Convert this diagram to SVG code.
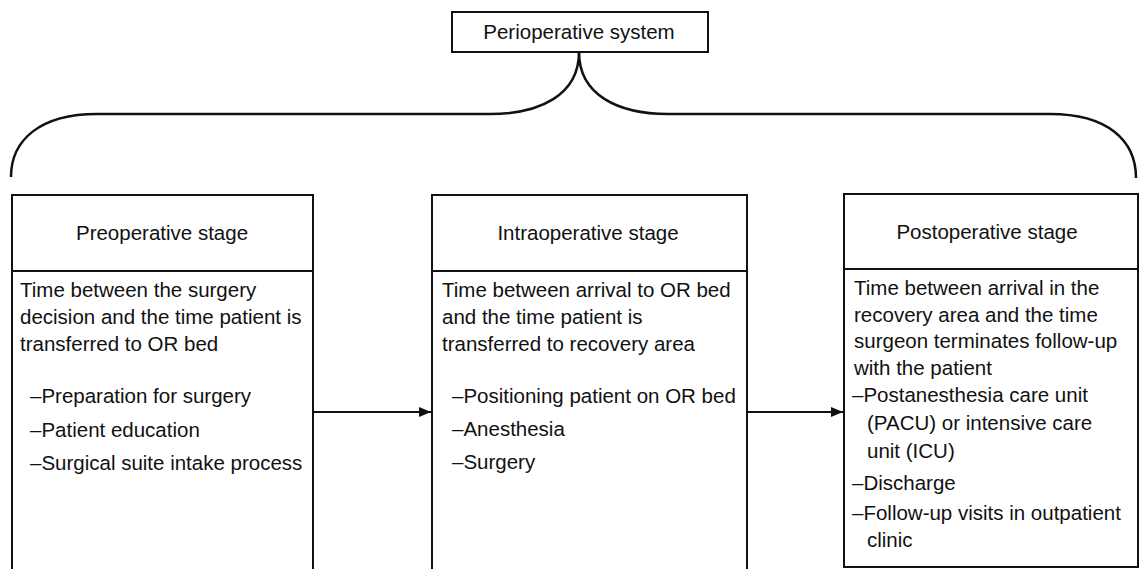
<svg xmlns="http://www.w3.org/2000/svg" width="1144" height="569" viewBox="0 0 1144 569">
<style>
.box{fill:#fff;stroke:#111;stroke-width:2}
.t{font-family:"Liberation Sans",Arial,sans-serif;font-size:20.5px;fill:#111}
.c{text-anchor:middle}
.line{fill:none;stroke:#111;stroke-width:2}
.brace{fill:none;stroke:#111;stroke-width:2.5}
</style>
<defs>
<marker id="arr" markerWidth="12" markerHeight="10" refX="12" refY="5" orient="auto" markerUnits="userSpaceOnUse">
<path d="M0,0 L12,5 L0,10 Z" fill="#111"/>
</marker>
</defs>
<rect width="1144" height="569" fill="#fff"/>
<g id="connectors">
<path class="brace" d="M579,52 C579,95 540,114 490,114 L97,114 C40,114 11,140 11,177"/>
<path class="brace" d="M579,52 C579,95 618,114 668,114 L1050,114 C1107,114 1136,140 1136,178"/>
<line class="line" x1="313" y1="412" x2="431" y2="412" marker-end="url(#arr)"/>
<line class="line" x1="747" y1="412" x2="843" y2="412" marker-end="url(#arr)"/>
</g>
<g id="perioperative">
<rect class="box" x="452" y="12" width="256" height="40"/>
<text class="t c" x="579" y="39">Perioperative system</text>
</g>
<g id="preoperative">
<path class="box" d="M12,575 L12,195 L313,195 L313,575"/>
<line class="line" x1="12" y1="271" x2="313" y2="271"/>
<text class="t c" x="162" y="240">Preoperative stage</text>
<text class="t" x="20" y="297">Time between the surgery</text>
<text class="t" x="20" y="324">decision and the time patient is</text>
<text class="t" x="20" y="351">transferred to OR bed</text>
<text class="t" x="30" y="403">–Preparation for surgery</text>
<text class="t" x="30" y="437">–Patient education</text>
<text class="t" x="30" y="470">–Surgical suite intake process</text>
</g>
<g id="intraoperative">
<path class="box" d="M432,575 L432,195 L747,195 L747,575"/>
<line class="line" x1="432" y1="271" x2="747" y2="271"/>
<text class="t c" x="588" y="240">Intraoperative stage</text>
<text class="t" x="442" y="297">Time between arrival to OR bed</text>
<text class="t" x="442" y="324">and the time patient is</text>
<text class="t" x="442" y="351">transferred to recovery area</text>
<text class="t" x="452" y="403">–Positioning patient on OR bed</text>
<text class="t" x="452" y="436">–Anesthesia</text>
<text class="t" x="452" y="469">–Surgery</text>
</g>
<g id="postoperative">
<rect class="box" x="844" y="194" width="294" height="373"/>
<line class="line" x1="844" y1="269" x2="1138" y2="269"/>
<text class="t c" x="987" y="239">Postoperative stage</text>
<text class="t" x="854" y="295">Time between arrival in the</text>
<text class="t" x="854" y="322">recovery area and the time</text>
<text class="t" x="854" y="348">surgeon terminates follow-up</text>
<text class="t" x="854" y="375">with the patient</text>
<text class="t" x="852" y="402">–Postanesthesia care unit</text>
<text class="t" x="867" y="430">(PACU) or intensive care</text>
<text class="t" x="867" y="458">unit (ICU)</text>
<text class="t" x="852" y="490">–Discharge</text>
<text class="t" x="852" y="520">–Follow-up visits in outpatient</text>
<text class="t" x="867" y="547">clinic</text>
</g>
</svg>
